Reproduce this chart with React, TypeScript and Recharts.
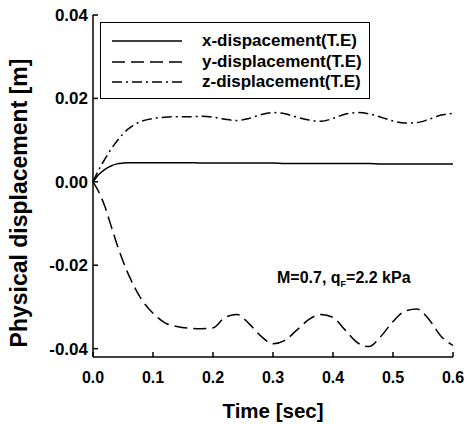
import React from 'react';
import { LineChart, Line, XAxis, YAxis, Label, ReferenceDot, Legend } from 'recharts';

const time = [0, 0.01, 0.02, 0.03, 0.04, 0.05, 0.06, 0.07, 0.08, 0.1, 0.12, 0.14, 0.16, 0.18, 0.2, 0.22, 0.24, 0.26, 0.28, 0.3, 0.32, 0.34, 0.36, 0.38, 0.4, 0.42, 0.44, 0.46, 0.48, 0.5, 0.52, 0.54, 0.56, 0.58, 0.6];
const xDisp = [0, 0.0018, 0.003, 0.0038, 0.0043, 0.0045, 0.0046, 0.0046, 0.0046, 0.0046, 0.0046, 0.0046, 0.0046, 0.0045, 0.0045, 0.0045, 0.0045, 0.0045, 0.0045, 0.0045, 0.0044, 0.0044, 0.0044, 0.0044, 0.0044, 0.0044, 0.0044, 0.0044, 0.0043, 0.0043, 0.0043, 0.0043, 0.0043, 0.0043, 0.0043];
const yDisp = [0, -0.0025, -0.006, -0.0105, -0.015, -0.019, -0.0225, -0.0255, -0.028, -0.0315, -0.0338, -0.0347, -0.0351, -0.0352, -0.035, -0.0325, -0.0318, -0.034, -0.037, -0.0388, -0.038, -0.0355, -0.033, -0.0318, -0.0325, -0.0355, -0.0385, -0.0395, -0.037, -0.0335, -0.031, -0.0305, -0.033, -0.037, -0.0392];
const zDisp = [0, 0.003, 0.0055, 0.0078, 0.0098, 0.0115, 0.0128, 0.0138, 0.0145, 0.0152, 0.0155, 0.0156, 0.0156, 0.0157, 0.0155, 0.015, 0.0147, 0.0152, 0.0161, 0.0166, 0.0163, 0.0155, 0.0148, 0.0145, 0.0152, 0.0162, 0.0166, 0.0163, 0.0155, 0.0146, 0.0141, 0.0142, 0.015, 0.016, 0.0164];
const xTicks = [0, 0.1, 0.2, 0.3, 0.4, 0.5, 0.6];
const yTicks = [-0.04, -0.02, 0, 0.02, 0.04];
const seriesNames = ['x-dispacement(T.E)', 'y-displacement(T.E)', 'z-displacement(T.E)'];
const dashes = ['', '13 6', '10 4 2 4'];

const data = time.map((t, i) => ({ t, x: xDisp[i], y: yDisp[i], z: zDisp[i] }));

const FONT = '"Liberation Sans", Arial, sans-serif';
const xTickStyle = { fontFamily: FONT, fontWeight: 700, fontSize: 16, fill: '#000' };
const yTickStyle = { fontFamily: FONT, fontWeight: 700, fontSize: 17, fill: '#000' };

const LegendBox = () => (
  <div style={{ border: '1.5px solid #000', width: 270, height: 77, boxSizing: 'border-box', background: '#fff', paddingTop: 8, fontFamily: FONT, fontWeight: 700, fontSize: 17, lineHeight: '20px' }}>
    {seriesNames.map((n, i) => (
      <div key={n} style={{ display: 'flex', alignItems: 'center', height: 20.5 }}>
        <svg width={90} height={10} style={{ marginLeft: 11, flex: 'none' }}>
          <line x1={0} y1={5} x2={70} y2={5} stroke="#000" strokeWidth={1.5} strokeDasharray={dashes[i] || undefined} />
        </svg>
        <span style={{ whiteSpace: 'nowrap' }}>{n}</span>
      </div>
    ))}
  </div>
);

const Annotation = (props: any) => {
  const { viewBox } = props;
  const cx = viewBox.x + (viewBox.width || 0) / 2;
  const cy = viewBox.y + (viewBox.height || 0) / 2;
  return (
    <text x={cx} y={cy + 6} textAnchor="middle" style={{ fontFamily: FONT, fontWeight: 700, fontSize: 16 }} fill="#000">
      M=0.7, q<tspan fontSize={9} dy={4}>F</tspan><tspan dy={-4}>=2.2 kPa</tspan>
    </text>
  );
};

const YLabel = (props: any) => {
  const { viewBox } = props;
  const y = viewBox.y + viewBox.height / 2 + 17;
  const x = 27;
  return (
    <text x={x} y={y} transform={`rotate(-90, ${x}, ${y})`} textAnchor="middle" style={{ fontFamily: FONT, fontWeight: 700, fontSize: 23 }} fill="#000">
      Physical displacement [m]
    </text>
  );
};

export default function App() {
  return (
    <div style={{ position: 'absolute', left: 0, top: 0, background: '#fff' }}>
      <LineChart width={468} height={424} data={data} margin={{ top: 15, right: 15, bottom: 0, left: 0 }}>
        <XAxis dataKey="t" type="number" domain={[0, 0.6]} ticks={xTicks} tickFormatter={(v: number) => v.toFixed(1)}
          height={67} tickSize={-5} tickMargin={20} stroke="#000" strokeWidth={1.5} tick={xTickStyle} interval={0}>
          <Label value="Time [sec]" position="insideBottom" offset={6} style={{ fontFamily: FONT, fontWeight: 700, fontSize: 20.5, fill: '#000' }} />
        </XAxis>
        <XAxis xAxisId="top" dataKey="t" type="number" domain={[0, 0.6]} ticks={xTicks} orientation="top" height={0}
          tickSize={-5} tick={false} stroke="#000" strokeWidth={1.5} />
        <YAxis type="number" domain={[-0.042, 0.04]} ticks={yTicks} tickFormatter={(v: number) => v.toFixed(2)}
          width={93} tickSize={-5} tickMargin={10} stroke="#000" strokeWidth={1.5} tick={yTickStyle} interval={0} allowDataOverflow>
          <Label content={<YLabel />} />
        </YAxis>
        <YAxis yAxisId="right" type="number" domain={[-0.042, 0.04]} ticks={yTicks} orientation="right" width={0}
          tickSize={-5} tick={false} stroke="#000" strokeWidth={1.5} allowDataOverflow />
        <Line dataKey="x" type="monotone" stroke="#000" strokeWidth={1.5} dot={false} isAnimationActive={false} />
        <Line dataKey="y" type="monotone" stroke="#000" strokeWidth={1.5} strokeDasharray={dashes[1]} dot={false} isAnimationActive={false} />
        <Line dataKey="z" type="monotone" stroke="#000" strokeWidth={1.5} strokeDasharray={dashes[2]} dot={false} isAnimationActive={false} />
        <ReferenceDot x={0.418} y={-0.0229} r={0} stroke="none" label={<Annotation />} />
        <Legend layout="horizontal" verticalAlign="middle" align="center" content={<LegendBox />} wrapperStyle={{ position: 'absolute', left: 100, top: 22, width: 270 }} />
      </LineChart>
    </div>
  );
}
